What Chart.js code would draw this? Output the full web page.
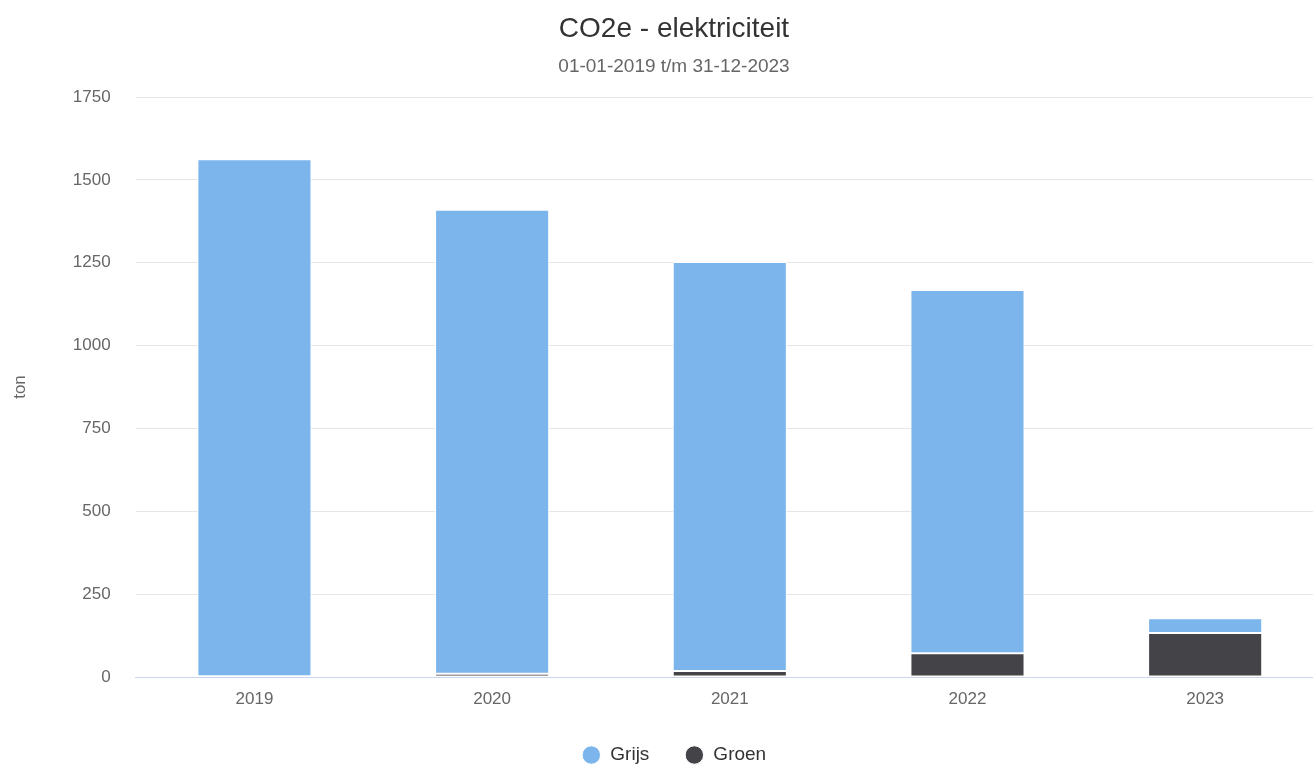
<!DOCTYPE html>
<html>
<head>
<meta charset="utf-8">
<script src="https://cdn.jsdelivr.net/npm/chart.js@4"></script>
<style>
html,body{margin:0;padding:0;background:#fff;overflow:hidden;}
#wrap{width:1313px;height:765px;position:relative;overflow:hidden;}
canvas{display:block;}
</style>
</head>
<body>
<div id="wrap"><canvas id="c" width="1348" height="765"></canvas></div>
<script>
const categories = ['2019', '2020', '2021', '2022', '2023'];
const grijs = [1560, 1400, 1234, 1096, 44];
const groen = [2, 10, 18, 72, 133];
const yTicks = [0, 250, 500, 750, 1000, 1250, 1500, 1750];

const FONT = '"Liberation Sans", Arial, Helvetica, sans-serif';

new Chart(document.getElementById('c'), {
  type: 'bar',
  data: {
    labels: categories,
    datasets: [
      { label: 'Groen', data: groen, backgroundColor: '#434348', borderColor: '#ffffff', borderWidth: 1, borderSkipped: false },
      { label: 'Grijs', data: grijs, backgroundColor: '#7cb5ec', borderColor: '#ffffff', borderWidth: 1, borderSkipped: false }
    ]
  },
  options: {
    responsive: false,
    animation: false,
    maintainAspectRatio: false,
    layout: { padding: { left: 24, right: 24, top: 0, bottom: -9.5 } },
    datasets: { bar: { categoryPercentage: 1, barPercentage: 0.48 } },
    plugins: {
      title: { display: true, text: 'CO2e - elektriciteit', color: '#333333',
        font: { family: FONT, size: 28, weight: 'normal' }, padding: { top: 12, bottom: 10 } },
      subtitle: { display: true, text: '01-01-2019 t/m 31-12-2023', color: '#666666',
        font: { family: FONT, size: 19, weight: 'normal' }, padding: { top: 0, bottom: 18.6 } },
      legend: { position: 'bottom', reverse: true,
        labels: { usePointStyle: true, pointStyle: 'circle', boxWidth: 19, boxHeight: 13, padding: 35.5, color: '#333333',
          font: { family: FONT, size: 19 } } },
      tooltip: { enabled: false }
    },
    scales: {
      x: {
        stacked: true,
        afterFit: (s) => { s.height = 33; },
        grid: { display: false, drawTicks: false },
        border: { display: true, color: '#ccd6eb', width: 1 },
        ticks: { color: '#666666', font: { family: FONT, size: 17 }, padding: 12.5 }
      },
      y: {
        stacked: true,
        min: 0, max: 1750,
        afterBuildTicks: (s) => { s.ticks = yTicks.map(v => ({ value: v })); },
        afterFit: (s) => { s.width = 111.6; },
        grid: { color: '#e6e6e6', drawTicks: false },
        border: { display: false },
        ticks: { color: '#666666', font: { family: FONT, size: 17 }, padding: 25, callback: (v) => String(v) },
        title: { display: true, text: 'ton', color: '#666666', font: { family: FONT, size: 17 }, padding: { top: -14, bottom: 0 } }
      }
    }
  }
});
</script>
</body>
</html>
